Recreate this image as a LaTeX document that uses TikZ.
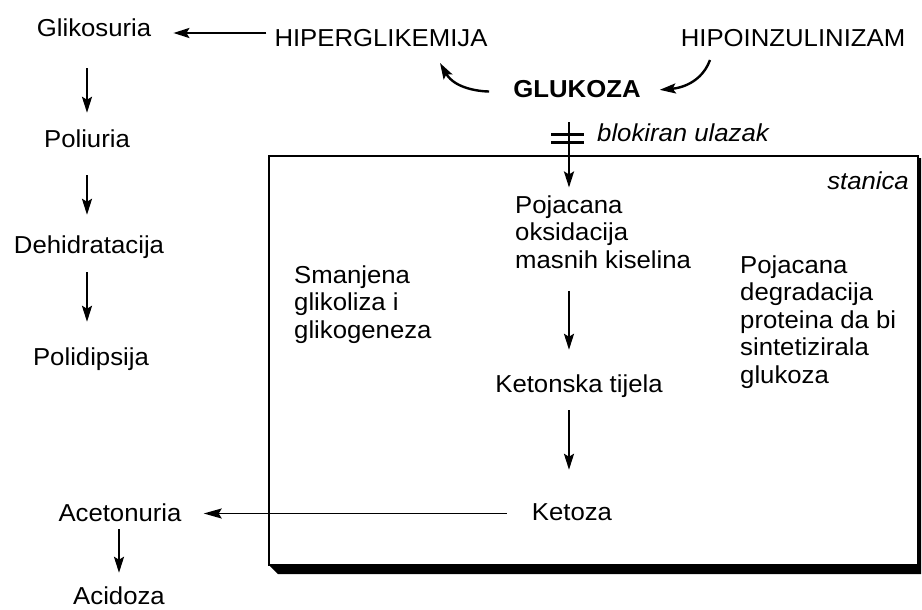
\documentclass[tikz,border=0pt]{standalone}
\usepackage{fontspec}
\setmainfont{Liberation Sans}[FakeStretch=1.05]
\usepackage{tikz}
\usetikzlibrary{
    arrows.meta,
    calc
}

\begin{document}
\begin{tikzpicture}[
    x=1pt, y=-1pt,
    font=\fontsize{24.5}{27.5}\selectfont,
    lbl/.style={inner sep=0pt, text height=18pt, text depth=5pt, anchor=base},
    blk/.style={inner sep=0pt, align=left, anchor=north west},
    arr/.style={-{Stealth[length=16pt, width=10pt, inset=3pt]}, line width=2.4pt},
    thinarr/.style={-{Stealth[length=18pt, width=10pt, inset=3pt]}, line width=1.8pt}
  ]

  \useasboundingbox (0,0) rectangle (922,610);

  % stanica {{{
  \fill (269,565) -- (278,574) -- (921,574) -- (921,158)
    -- (918,158) -- (918,565) -- cycle;
  \draw[line width=2pt] (269,156) rectangle (918,565);
  \node[lbl, anchor=base east, font=\fontsize{24.5}{27.5}\selectfont\itshape]
    (stanica) at (909,189) {stanica};
  % }}}

  % top row {{{
  \node[lbl] (hiper) at (381,47) {HIPERGLIKEMIJA};
  \node[lbl] (hipo) at (793,47) {HIPOINZULINIZAM};
  \node[lbl, font=\fontsize{24.5}{27.5}\selectfont\bfseries]
    (gluk) at (577,98) {GLUKOZA};
  \coordinate (hiptip) at (440,63);
  \coordinate (hipout) at (710,60);
  \coordinate (ax) at (569,0);
  % }}}

  % left column {{{
  \node[lbl] (glik) at (94,37) {Glikosuria};
  \node[lbl] (poli) at (87,147) {Poliuria};
  \node[lbl] (dehi) at (89,253) {Dehidratacija};
  \node[lbl] (polid) at (91,365) {Polidipsija};
  \node[lbl] (aceto) at (120,521) {Acetonuria};
  \node[lbl] (acid) at (119,604) {Acidoza};
  % }}}

  % inside the cell {{{
  \node[lbl, anchor=base west, font=\fontsize{24.5}{27.5}\selectfont\itshape]
    (blok) at (597,142) {blokiran ulazak};
  \node[blk] (oks) at (515,195.5)
    {Pojacana\\oksidacija\\masnih kiselina};
  \node[blk] (smanj) at (294,265.5)
    {Smanjena\\glikoliza i\\glikogeneza};
  \node[blk] (degr) at (740,255.5)
    {Pojacana\\degradacija\\proteina da bi\\sintetizirala\\glukoza};
  \node[lbl] (keton) at (579,392) {Ketonska tijela};
  \node[lbl] (ketoza) at (572,520) {Ketoza};
  % }}}

  % connectors
  \draw[arr, shorten <=8pt, shorten >=22pt]
    ([yshift=7.5pt]hiper.west) -- ([yshift=7.5pt]hiper.west -| glik.east);
  \draw[arr, shorten <=26pt, shorten >=16pt] (glik.south -| poli) -- (poli.north);
  \draw[arr, shorten <=23pt, shorten >=20pt] (poli.south) -- (poli.south |- dehi.north);
  \draw[arr, shorten <=14pt, shorten >=25pt] (dehi.south -| poli) -- (polid.north -| poli);
  \draw[arr, shorten <=3pt, shorten >=13pt] (aceto.south -| acid) -- (acid.north);

  \draw[arr, shorten <=24pt] (gluk.west) to[out=180, in=-60] (hiptip);
  \draw[arr, shorten >=19pt] (hipout) to[out=-110, in=5] (gluk.east);

  \draw[arr, shorten <=19pt, shorten >=8pt] (gluk.south -| ax) -- (oks.north -| ax);
  \draw[line width=3pt] (551,134) -- (584,134) (551,142) -- (584,142);

  \draw[arr, shorten <=22pt, shorten >=24pt] (oks.south -| ax) -- (keton.north -| ax);
  \draw[arr, shorten <=13pt, shorten >=32pt] (keton.south -| ax) -- (ketoza.north -| ax);
  \draw[thinarr, shorten <=25pt, shorten >=22pt]
    (ketoza.west) -- (ketoza.west -| aceto.east);

\end{tikzpicture}
\end{document}
